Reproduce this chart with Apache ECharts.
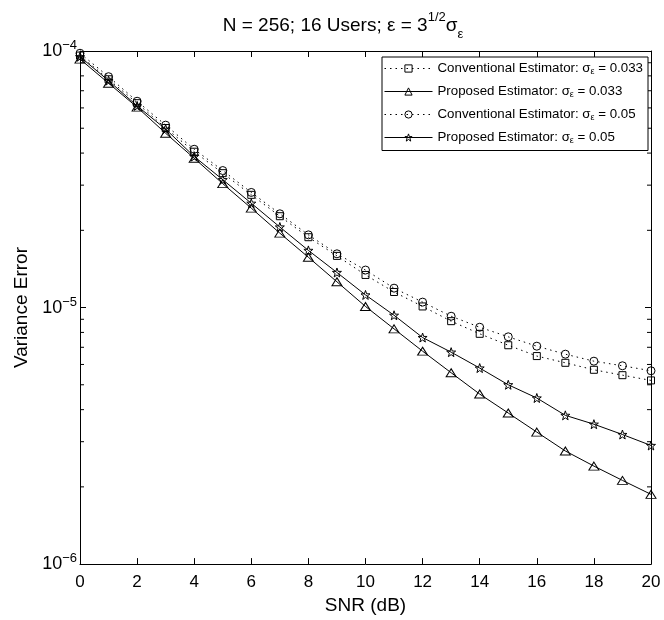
<!DOCTYPE html>
<html>
<head>
<meta charset="utf-8">
<script src="https://cdn.jsdelivr.net/npm/echarts@6/dist/echarts.min.js"></script>
<style>
html,body{margin:0;padding:0;background:#fff;}
#chart{width:664px;height:620px;}
</style>
</head>
<body>
<div id="chart"></div>
<script>
// ---- data ----
const snr = [0,1,2,3,4,5,6,7,8,9,10,11,12,13,14,15,16,17,18,19,20];
const conv033 = [9.6e-5,7.76e-5,6.26e-5,5.01e-5,4.05e-5,3.34e-5,2.75e-5,2.27e-5,1.88e-5,1.59e-5,1.34e-5,1.15e-5,1.01e-5,8.85e-6,7.9e-6,7.13e-6,6.47e-6,6.09e-6,5.72e-6,5.45e-6,5.2e-6];
const prop033 = [9.3e-5,7.49e-5,6.04e-5,4.78e-5,3.82e-5,3.04e-5,2.44e-5,1.95e-5,1.57e-5,1.26e-5,1.01e-5,8.26e-6,6.76e-6,5.57e-6,4.6e-6,3.88e-6,3.27e-6,2.76e-6,2.41e-6,2.12e-6,1.87e-6];
const conv05 = [9.8e-5,7.94e-5,6.37e-5,5.14e-5,4.14e-5,3.42e-5,2.81e-5,2.32e-5,1.92e-5,1.62e-5,1.40e-5,1.19e-5,1.05e-5,9.25e-6,8.38e-6,7.69e-6,7.07e-6,6.58e-6,6.18e-6,5.93e-6,5.67e-6];
const prop05 = [9.5e-5,7.66e-5,6.11e-5,4.96e-5,3.88e-5,3.15e-5,2.55e-5,2.06e-5,1.67e-5,1.37e-5,1.12e-5,9.33e-6,7.64e-6,6.7e-6,5.81e-6,5.0e-6,4.44e-6,3.8e-6,3.51e-6,3.2e-6,2.9e-6];
const seriesNames = [
  'Conventional Estimator: 0.033',
  'Proposed Estimator: 0.033',
  'Conventional Estimator: 0.05',
  'Proposed Estimator: 0.05'
];
const xMin = 0, xMax = 20, xStep = 2;
const yMin = 1e-6, yMax = 1e-4;
const minorTickValues = [2e-6,3e-6,4e-6,5e-6,6e-6,7e-6,8e-6,9e-6,2e-5,3e-5,4e-5,5e-5,6e-5,7e-5,8e-5,9e-5];

// ---- chart ----
const FONT = 'Liberation Sans, Arial, Helvetica, sans-serif';
const chart = echarts.init(document.getElementById('chart'), null, {renderer:'canvas'});
const pair = a => snr.map((x,i)=>[x,a[i]]);
const star = 'path://M0,-10 L2.35,-3.24 9.51,-3.09 3.8,1.24 5.88,8.09 0,4 -5.88,8.09 -3.8,1.24 -9.51,-3.09 -2.35,-3.24 Z';
const hollow = {color:'rgba(0,0,0,0)', borderColor:'#000', borderWidth:1};

function mkLine(name, data, symbol, size, dotted){
  return {
    name, type:'line', data: pair(data), symbol, symbolSize:size,
    showSymbol:true, animation:false, z:3,
    lineStyle:{color:'#000', width:1, type: dotted ? [1.5,4] : 'solid'},
    itemStyle: hollow,
    emphasis:{disabled:true}
  };
}

const minorData = [];
minorTickValues.forEach(v=>{ minorData.push([xMin,v]); minorData.push([xMax,v]); });

const supLabel = v => {
  const e = Math.round(Math.log10(v));
  return '{b|10}{s|' + (e<0?'\u2212':'') + Math.abs(e) + '}';
};
const labelRich = {
  b:{fontSize:18, fontFamily:FONT, color:'#000', lineHeight:24},
  s:{fontSize:13, fontFamily:FONT, color:'#000', lineHeight:12, verticalAlign:'top'}
};

const option = {
  backgroundColor:'#fff',
  animation:false,
  title:{
    text:'{a|N = 256; 16 Users; \u03b5 = 3}{sup|1/2}{a|\u03c3}{sub|\u03b5}',
    left:338, top:6, textAlign:'center',
    textStyle:{
      fontWeight:'normal',
      rich:{
        a:{fontSize:19, fontFamily:FONT, color:'#000', lineHeight:30, fontWeight:'normal'},
        sup:{fontSize:13, fontFamily:FONT, color:'#000', lineHeight:20, verticalAlign:'top', fontWeight:'normal'},
        sub:{fontSize:13, fontFamily:FONT, color:'#000', lineHeight:12, verticalAlign:'bottom', fontWeight:'normal'}
      }
    }
  },
  legend:{
    orient:'vertical', left:382, top:57,
    padding:[5,5,5,2],
    itemWidth:48, itemHeight:9, itemGap:8.5,
    backgroundColor:'#fff', borderColor:'#000', borderWidth:1, borderRadius:0,
    itemStyle:{borderWidth:1},
    lineStyle:{width:1},
    data: seriesNames,
    formatter: n => {
      const parts = n.split(': ');
      return '{t|' + parts[0] + ': \u03c3}{u|\u03b5}{t| = ' + parts[1] + '}';
    },
    textStyle:{
      rich:{
        t:{fontSize:13.3, fontFamily:FONT, color:'#000', lineHeight:16},
        u:{fontSize:9, fontFamily:FONT, color:'#000', lineHeight:9, verticalAlign:'bottom'}
      }
    },
    selectedMode:false
  },
  grid:{left:80, right:13, top:51, bottom:55, containLabel:false},
  xAxis:[{
    type:'value', min:xMin, max:xMax, interval:xStep,
    name:'SNR (dB)', nameLocation:'middle', nameGap:28,
    nameTextStyle:{fontSize:19, fontFamily:FONT, color:'#000'},
    axisLine:{show:true, lineStyle:{color:'#000', width:1}},
    axisTick:{show:true, inside:true, length:6, lineStyle:{color:'#000'}},
    axisLabel:{fontSize:17, fontFamily:FONT, color:'#000', margin:10},
    splitLine:{show:false}
  },{
    type:'value', min:xMin, max:xMax, interval:xStep, position:'top',
    axisLine:{show:true, onZero:false, lineStyle:{color:'#000', width:1}},
    axisTick:{show:true, inside:true, length:6, lineStyle:{color:'#000'}},
    axisLabel:{show:false}, splitLine:{show:false}
  }],
  yAxis:[{
    type:'log', logBase:10, min:yMin, max:yMax,
    name:'Variance Error', nameLocation:'middle', nameGap:48,
    nameTextStyle:{fontSize:19, fontFamily:FONT, color:'#000'},
    axisLine:{show:true, lineStyle:{color:'#000', width:1}},
    axisTick:{show:true, inside:true, length:6, lineStyle:{color:'#000'}},
    axisLabel:{formatter:supLabel, rich:labelRich, margin:3},
    splitLine:{show:false}
  },{
    type:'log', logBase:10, min:yMin, max:yMax, position:'right',
    axisLine:{show:true, onZero:false, lineStyle:{color:'#000', width:1}},
    axisTick:{show:true, inside:true, length:6, lineStyle:{color:'#000'}},
    axisLabel:{show:false}, splitLine:{show:false}
  }],
  series:[
    mkLine(seriesNames[0], conv033, 'rect', 7, true),
    mkLine(seriesNames[1], prop033, 'triangle', [10,8], false),
    mkLine(seriesNames[2], conv05, 'circle', 8, true),
    mkLine(seriesNames[3], prop05, star, 9, false),
    {
      type:'custom', name:'minorTicks', silent:true, clip:false, z:2,
      data: minorData,
      renderItem:(params, api)=>{
        const x = api.value(0), v = api.value(1);
        const p = api.coord([x, v]);
        const dir = x === xMin ? 1 : -1;
        return {type:'line', shape:{x1:p[0], y1:p[1], x2:p[0]+dir*4, y2:p[1]},
                style:{stroke:'#000', lineWidth:1}};
      }
    }
  ]
};
chart.setOption(option);
</script>
</body>
</html>
